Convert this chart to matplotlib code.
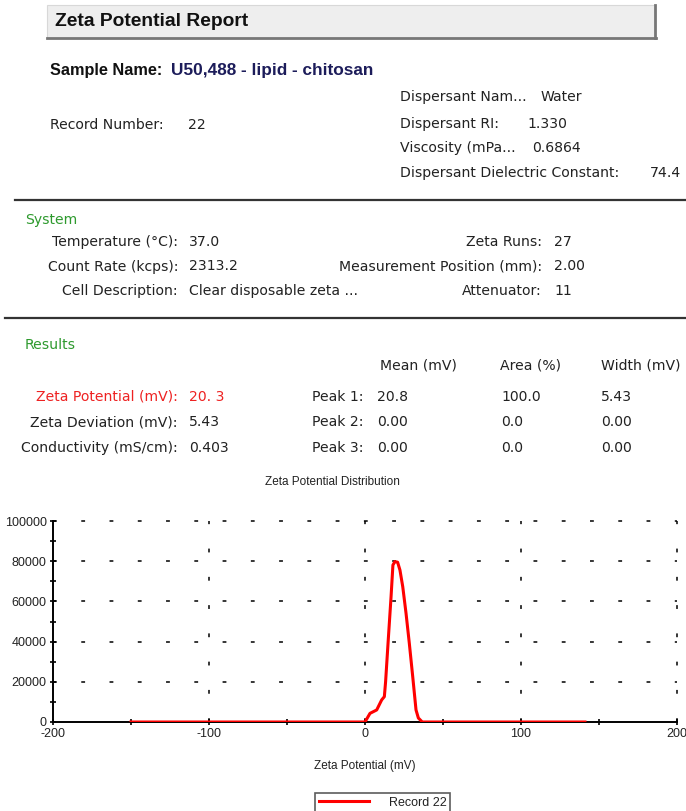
import matplotlib
matplotlib.use("Agg")
from matplotlib import pyplot as plt
from matplotlib.patches import Rectangle
from matplotlib.lines import Line2D

# ---- data ----
zeta_mv = [-150, 0, 3.2, 7.5, 10.7, 12.4, 13.2, 14.9, 16.7, 17.9, 19.2, 20.9,
           22.4, 24.2, 26.3, 28.4, 30.6, 32.7, 34.2, 36.7, 141]
counts = [0, 0, 4300, 6000, 11000, 12600, 20000, 40800, 62300, 78100, 79800, 79500,
          75600, 67300, 54100, 39200, 22500, 6000, 2000, 0, 0]

x_ticks = [-200, -100, 0, 100, 200]
y_ticks = [0, 20000, 40000, 60000, 80000, 100000]

header_right = [("Dispersant Nam...", "Water"),
                ("Dispersant RI:", "1.330"),
                ("Viscosity (mPa...", "0.6864"),
                ("Dispersant Dielectric Constant:", "74.4")]
system_left = [("Temperature (°C):", "37.0"),
               ("Count Rate (kcps):", "2313.2"),
               ("Cell Description:", "Clear disposable zeta ...")]
system_right = [("Zeta Runs:", "27"),
                ("Measurement Position (mm):", "2.00"),
                ("Attenuator:", "11")]
results_left = [("Zeta Potential (mV):", "20. 3"),
                ("Zeta Deviation (mV):", "5.43"),
                ("Conductivity (mS/cm):", "0.403")]
peak_names = ["Peak 1:", "Peak 2:", "Peak 3:"]
peak_mean = ["20.8", "0.00", "0.00"]
peak_area = ["100.0", "0.0", "0.0"]
peak_width = ["5.43", "0.00", "0.00"]

W, H = 686, 811
fig = plt.figure(figsize=(W / 100, H / 100), dpi=100)

BODY = dict(family=["DejaVu Sans"], fontsize=10.1, color="#222222")
NARROW = ["Liberation Sans Narrow", "Liberation Sans"]
GREEN = "#2e9a2e"


def put(x, y, s, **kw):
    opts = dict(BODY)
    opts.update(kw)
    fig.text(x / W, 1 - y / H, s, va="center", **opts)


def hline(y, x0, x1, lw=1.6, c="#333333"):
    fig.add_artist(Line2D([x0 / W, x1 / W], [1 - y / H, 1 - y / H], lw=lw, color=c))


# title bar
fig.add_artist(Rectangle((47 / W, 1 - 38 / H), 608 / W, 33 / H, facecolor="#eeeeee",
                         edgecolor="#d8d8d8", lw=0.8))
fig.add_artist(Line2D([655 / W, 655 / W], [1 - 38 / H, 1 - 5 / H], lw=2, color="#777777"))
hline(38, 47, 656, lw=2, c="#777777")
put(55, 22, "Zeta Potential Report", family=["Liberation Sans"], fontsize=13.9,
    weight="bold", color="#111111")

put(50, 70, "Sample Name:", family=["Liberation Sans"], fontsize=11.7, weight="bold",
    color="#111111")
put(171, 70, "U50,488 - lipid - chitosan", family=["Liberation Sans"], fontsize=12.4,
    weight="bold", color="#1c1c5a")

put(50, 125, "Record Number:")
put(188, 125, "22")
for (lab, val), y, xv in zip(header_right, [97, 124, 148, 173], [541, 527, 532, 650]):
    put(400, y, lab)
    put(xv, y, val)

hline(200, 15, 686)

put(25, 220, "System", color=GREEN)
for i, (lab, val) in enumerate(system_left):
    y = 242 + i * 24.5
    put(178, y, lab, ha="right")
    put(189, y, val)
for i, (lab, val) in enumerate(system_right):
    y = 242 + i * 24.5
    put(542, y, lab, ha="right")
    put(554, y, val)

hline(318, 5, 686)

put(25, 345, "Results", color=GREEN)
put(380, 366, "Mean (mV)")
put(500, 366, "Area (%)")
put(601, 366, "Width (mV)")
for i, (lab, val) in enumerate(results_left):
    y = 397 + i * 25.5
    col = "#ee2222" if i == 0 else "#222222"
    put(178, y, lab, ha="right", color=col)
    put(189, y, val, color=col)
    put(364, y, peak_names[i], ha="right")
    put(377, y, peak_mean[i])
    put(501, y, peak_area[i])
    put(601, y, peak_width[i])

# ---- distribution chart ----
ax = fig.add_axes([53 / W, 1 - 722 / H, 624 / W, 201 / H])
ax.plot(zeta_mv, counts, color="#ff0000", lw=2.2, label="Record 22", zorder=3)
ax.set_xlim(-200, 200)
ax.set_ylim(0, 100000)
ax.set_xticks(x_ticks)
ax.set_xticks([-150, -50, 50, 150], minor=True)
ax.set_yticks(y_ticks)
ax.set_yticks(range(10000, 100000, 20000), minor=True)
ax.set_xticklabels([str(v) for v in x_ticks])
ax.set_yticklabels([str(v) for v in y_ticks])
for s in ["top", "right"]:
    ax.spines[s].set_visible(False)
for s in ["left", "bottom"]:
    ax.spines[s].set_linewidth(1.4)
ax.tick_params(which="both", direction="inout", length=5, width=1.2, color="black",
               labelsize=9, pad=2)
for lab in ax.get_xticklabels() + ax.get_yticklabels():
    lab.set_family(NARROW)
    lab.set_color("#222222")

for v in y_ticks[1:]:
    ax.axhline(v, color="black", lw=1.1, ls=(0, (2.5, 16)), zorder=1, clip_on=False)
for v in x_ticks[1:]:
    ax.axvline(v, color="black", lw=1.1, ls=(0, (2.5, 16)), zorder=1, clip_on=False)

ax.set_title("Zeta Potential Distribution", family=NARROW, fontsize=8.5, color="#222222",
             x=(332 - 53) / 624, pad=26)
ax.set_xlabel("Zeta Potential (mV)", family=NARROW, fontsize=8.5, color="#222222",
              labelpad=14)
ax.set_ylabel("Total Counts", family=NARROW, fontsize=8, color="#6f9fcf")
ax.yaxis.set_label_coords(-0.092, 0.5)

leg = ax.legend(loc="upper left", bbox_to_anchor=(315 / W, 1 - 793 / H),
                bbox_transform=fig.transFigure, frameon=True, fancybox=False,
                edgecolor="#333333", handlelength=4.0, handletextpad=1.6,
                borderpad=0.3, borderaxespad=0, prop={"family": NARROW, "size": 9})
leg.get_frame().set_linewidth(1.2)
for t in leg.get_texts():
    t.set_color("#222222")

fig.savefig("out.png", dpi=100)
